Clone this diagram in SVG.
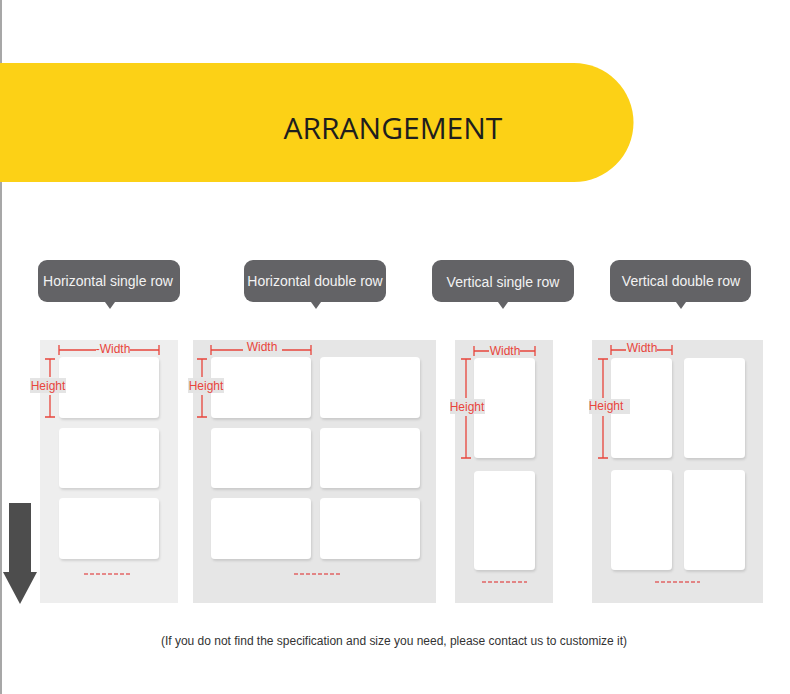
<svg xmlns="http://www.w3.org/2000/svg" width="790" height="694" viewBox="0 0 790 694">
<style>
.bub{fill:#636366}
.bt{font-family:"Liberation Sans",Arial,sans-serif;font-size:14px;fill:#f2f2f2;text-anchor:middle}
.panel{fill:#e6e6e6}
.card{fill:#ffffff;filter:url(#sh)}
.red{stroke:#e8453c;stroke-width:1.3;fill:none}
.rt{font-family:"Liberation Sans",Arial,sans-serif;font-size:12px;fill:#e8453c;text-anchor:middle}
.lbl{fill:#e4e4e4}
.dash{stroke:#dd2222;stroke-width:1.2;stroke-dasharray:4 2}
</style>
<defs>
<filter id="sh" x="-10%" y="-10%" width="120%" height="130%">
<feDropShadow dx="1" dy="2" stdDeviation="1.2" flood-color="#000" flood-opacity="0.12"/>
</filter>
</defs>
<rect width="790" height="694" fill="#ffffff"/>
<line x1="1" y1="0" x2="1" y2="694" stroke="#8a8a8a" stroke-width="1.5"/>
<g id="banner">
<path d="M0 63 H574 A59.5 59.5 0 0 1 574 182 H0 Z" fill="#fcd116"/>
<text x="393" y="139" font-family="Open Sans,'Liberation Sans',sans-serif" font-size="30" fill="#1e1e1e" text-anchor="middle">ARRANGEMENT</text>
</g>
<g id="bubble1">
<rect class="bub" x="38" y="260" width="142" height="42" rx="9"/>
<path class="bub" d="M105 302 L110 309 L115 302 Z"/>
<text class="bt" x="108" y="286">Horizontal single row</text>
</g>
<g id="bubble2">
<rect class="bub" x="244" y="260" width="142" height="42" rx="9"/>
<path class="bub" d="M311 302 L316 309 L321 302 Z"/>
<text class="bt" x="315" y="286">Horizontal double row</text>
</g>
<g id="bubble3">
<rect class="bub" x="432" y="260" width="142" height="42" rx="9"/>
<path class="bub" d="M498 302 L503 309 L508 302 Z"/>
<text class="bt" x="503" y="287">Vertical single row</text>
</g>
<g id="bubble4">
<rect class="bub" x="610" y="260" width="141" height="42" rx="9"/>
<path class="bub" d="M676 302 L681 309 L686 302 Z"/>
<text class="bt" x="681" y="286">Vertical double row</text>
</g>
<g id="panel1">
<rect x="40" y="340" width="138" height="263" fill="#eeeeee"/>
<rect class="card" x="59" y="357" width="100" height="61" rx="4"/>
<rect class="card" x="59" y="428" width="100" height="60" rx="4"/>
<rect class="card" x="59" y="498" width="100" height="61" rx="4"/>
<path class="red" d="M59 345 V355 M59 350 H96 M130 350 H159 M159 345 V355"/>
<text class="rt" x="113" y="353">-Width</text>
<path class="red" d="M45 359 H55 M50 359 V377 M50 395 V417 M45 417 H55"/>
<rect class="lbl" x="30" y="378" width="36" height="15"/>
<text class="rt" x="48" y="390">Height</text>
<line class="dash" x1="84" y1="574" x2="130" y2="574"/>
</g>
<g id="panel2">
<rect class="panel" x="193" y="340" width="243" height="263"/>
<rect class="card" x="211" y="357" width="100" height="61" rx="4"/>
<rect class="card" x="320" y="357" width="100" height="61" rx="4"/>
<rect class="card" x="211" y="428" width="100" height="60" rx="4"/>
<rect class="card" x="320" y="428" width="100" height="60" rx="4"/>
<rect class="card" x="211" y="498" width="100" height="61" rx="4"/>
<rect class="card" x="320" y="498" width="100" height="61" rx="4"/>
<path class="red" d="M211 345 V355 M211 350 H243 M282 350 H311 M311 345 V355"/>
<text class="rt" x="262" y="351">Width</text>
<path class="red" d="M197 359 H207 M202 359 V377 M202 395 V417 M197 417 H207"/>
<rect class="lbl" x="188" y="378" width="36" height="15"/>
<text class="rt" x="206" y="390">Height</text>
<line class="dash" x1="294" y1="574" x2="340" y2="574"/>
</g>
<g id="panel3">
<rect class="panel" x="455" y="340" width="98" height="263"/>
<rect class="card" x="474" y="358" width="61" height="100" rx="4"/>
<rect class="card" x="474" y="471" width="61" height="99" rx="4"/>
<path class="red" d="M474 346 V356 M474 351 H489 M520 351 H535 M535 346 V356"/>
<text class="rt" x="505" y="355">Width</text>
<path class="red" d="M461 359 H471 M466 359 V398 M466 416 V458 M461 458 H471"/>
<rect class="lbl" x="450" y="399" width="35" height="15"/>
<text class="rt" x="467" y="411">Height</text>
<line class="dash" x1="482" y1="582" x2="527" y2="582"/>
</g>
<g id="panel4">
<rect class="panel" x="592" y="340" width="171" height="263"/>
<rect class="card" x="611" y="358" width="61" height="100" rx="4"/>
<rect class="card" x="684" y="358" width="61" height="100" rx="4"/>
<rect class="card" x="611" y="470" width="61" height="100" rx="4"/>
<rect class="card" x="684" y="470" width="61" height="100" rx="4"/>
<path class="red" d="M611 345 V355 M611 350 H626 M657 350 H672 M672 345 V355"/>
<text class="rt" x="642" y="352">Width</text>
<path class="red" d="M598 359 H608 M603 359 V398 M603 416 V458 M598 458 H608"/>
<rect class="lbl" x="589" y="399" width="41" height="15"/>
<text class="rt" x="606" y="410">Height</text>
<line class="dash" x1="655" y1="582" x2="700" y2="582"/>
</g>
<g id="arrow">
<path d="M9 503 H31 V572 H37 L20 604 L3 572 H9 Z" fill="#4d4d4d"/>
</g>
<text x="394" y="645" font-family="'Liberation Sans',Arial,sans-serif" font-size="12" fill="#333" text-anchor="middle" textLength="466">(If you do not find the specification and size you need, please contact us to customize it)</text>
</svg>
